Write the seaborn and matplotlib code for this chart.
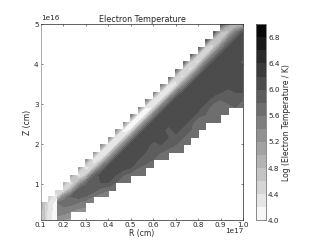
import numpy as np
import seaborn as sns
import matplotlib
matplotlib.use('Agg')
import matplotlib.pyplot as plt

# R positions of the grid columns (in units of 1e17 cm)
r_cols = [0.1, 0.133, 0.167, 0.174, 0.176, 0.2, 0.233, 0.267, 0.3, 0.333, 0.367, 0.4, 0.433, 0.467, 0.5,
          0.533, 0.567, 0.6, 0.633, 0.667, 0.7, 0.733, 0.767, 0.8, 0.833, 0.867, 0.9, 0.933, 0.967, 1.0]
# Z positions of the grid rows (in units of 1e16 cm)
z_rows = [0.1, 0.32, 0.55, 0.70, 0.85, 1.04, 1.23, 1.42, 1.61, 1.80, 1.99, 2.17, 2.36, 2.55, 2.74,
          2.93, 3.12, 3.30, 3.49, 3.68, 3.87, 4.06, 4.25, 4.43, 4.62, 4.81, 5.0]
# first filled row of every column
first_row = [0, 0, 0, 0, 0, 0, 0, 1, 1, 2, 3, 3, 4, 5, 5, 6, 6, 7, 8, 8, 9, 9, 10, 11, 12, 13, 13, 14, 15, 15]
# log temperature of every column, bottom to top
log_temp = [
    [4.9, 4.9, 4.9],
    [4.3, 4.3, 4.4, 4.5],
    [4.1, 4.1, 4.1, 4.3, 4.5],
    [4.1, 4.1, 4.1, 4.1, 4.4],
    [5.3, 5.5, 5.6, 4.5, 4.4],
    [5.2, 5.5, 5.7, 5.3, 4.2, 5.0],
    [5.1, 5.4, 5.7, 5.8, 5.0, 4.2, 5.1],
    [5.3, 5.6, 5.9, 5.9, 5.0, 4.2, 5.2],
    [5.3, 5.5, 5.8, 6.0, 5.7, 4.6, 4.2, 5.3],
    [5.4, 5.6, 5.9, 6.0, 5.7, 4.5, 4.2, 5.3],
    [5.5, 5.7, 6.0, 6.1, 5.5, 4.4, 4.2, 5.4],
    [5.4, 5.6, 6.0, 6.1, 6.1, 5.4, 4.3, 4.2, 5.4],
    [5.6, 5.8, 6.0, 6.1, 6.1, 5.4, 4.3, 4.2, 5.4],
    [5.6, 5.8, 6.1, 6.1, 6.1, 5.4, 4.3, 4.1, 5.4],
    [5.6, 5.7, 6.0, 6.1, 6.1, 6.1, 5.4, 4.2, 4.2, 5.5],
    [5.6, 5.8, 6.0, 6.1, 6.1, 6.1, 5.4, 4.2, 4.2, 5.5],
    [5.6, 5.7, 5.9, 6.0, 6.1, 6.1, 6.1, 5.4, 4.2, 4.2, 5.5],
    [5.6, 5.8, 5.9, 5.9, 6.1, 6.1, 6.1, 5.4, 4.2, 4.3, 5.6],
    [5.6, 5.8, 6.0, 6.1, 6.1, 6.1, 6.1, 5.4, 4.2, 4.3, 5.6],
    [5.6, 5.7, 5.9, 6.0, 5.9, 6.1, 6.1, 6.1, 5.4, 4.2, 4.4, 5.7],
    [5.6, 5.8, 5.9, 6.1, 6.1, 6.1, 6.1, 6.1, 5.4, 4.2, 4.5, 5.7],
    [5.6, 5.7, 5.8, 5.9, 6.1, 6.1, 6.1, 6.1, 6.0, 5.3, 4.3, 4.5, 5.8],
    [5.6, 5.7, 5.8, 5.9, 6.1, 6.1, 6.1, 6.1, 6.0, 5.3, 4.3, 4.5, 5.9],
    [5.6, 5.7, 5.6, 5.9, 6.1, 6.1, 6.1, 6.1, 6.0, 5.3, 4.3, 4.6, 5.9],
    [5.8, 5.7, 5.8, 5.9, 6.1, 6.1, 6.1, 6.1, 6.0, 5.4, 4.4, 4.6, 6.0],
    [5.8, 5.6, 5.7, 5.9, 6.1, 6.1, 6.1, 6.1, 6.0, 5.4, 4.5, 4.7, 6.0],
    [5.7, 5.7, 5.7, 5.8, 6.0, 6.1, 6.1, 6.1, 6.1, 6.0, 5.4, 4.6, 4.8, 5.9],
    [5.8, 5.7, 5.9, 5.9, 6.1, 6.1, 6.1, 6.1, 6.1, 6.0, 5.5, 4.7, 5.1],
    [5.8, 5.9, 6.0, 6.1, 6.1, 6.1, 6.1, 6.1, 6.1, 6.0, 5.5, 4.7],
    [5.7, 5.8, 6.0, 6.1, 6.1, 6.1, 5.9, 6.1, 6.1, 6.1, 6.0, 4.8],
]
x_ticks = [0.1, 0.2, 0.3, 0.4, 0.5, 0.6, 0.7, 0.8, 0.9, 1.0]
y_ticks = [1, 2, 3, 4, 5]
cbar_ticks = [4.0, 4.4, 4.8, 5.2, 5.6, 6.0, 6.4, 6.8]

sns.set_style('ticks')
plt.rcParams['font.family'] = ['DejaVu Sans']
plt.rcParams['font.size'] = 5.2
plt.rcParams['xtick.direction'] = 'in'
plt.rcParams['ytick.direction'] = 'in'

# fill the grid, cells outside the wedge stay empty
grid = np.full((len(z_rows), len(r_cols)), np.nan)
for c, vals in enumerate(log_temp):
    grid[first_row[c]:first_row[c] + len(vals), c] = vals
grid = np.ma.masked_invalid(grid)

fig = plt.figure(figsize=(3.27, 2.45), dpi=100)
W, H = 327.0, 245.0
ax = fig.add_axes([40.7 / W, 1 - 220.3 / H, 202.5 / W, 196 / H])
levels = np.arange(4.0, 7.01, 0.2)
cmap = sns.color_palette('gray_r', as_cmap=True)
cs = ax.contourf(np.array(r_cols) * 1e17, np.array(z_rows) * 1e16, grid, levels=levels, cmap=cmap,
                 corner_mask=False)

ax.set_xlim(0.1e17, 1.0e17)
ax.set_ylim(0.1e16, 5e16)
ax.set_xticks(np.array(x_ticks) * 1e17)
ax.set_yticks(np.array(y_ticks) * 1e16)
ax.tick_params(top=True, right=True, labelsize=5.2, length=1.6, width=0.4, pad=1.5, color='#222222')
for s in ax.spines.values():
    s.set_linewidth(0.5)
    s.set_color('#222222')
ax.spines['left'].set_color('#888888')
ax.xaxis.OFFSETTEXTPAD = 0
ax.xaxis.get_offset_text().set_fontsize(5.2)
ax.yaxis.get_offset_text().set_fontsize(5.2)
ax.set_xlabel('R (cm)', fontsize=5.5, labelpad=0.5)
ax.set_ylabel('Z (cm)', fontsize=5.5, labelpad=1.5)
ax.set_title('Electron Temperature', fontsize=5.8, pad=1.5)

cax = fig.add_axes([256 / W, 1 - 220.3 / H, 10 / W, 196 / H])
cb = fig.colorbar(cs, cax=cax, ticks=cbar_ticks)
cb.ax.set_yticklabels(['%.1f' % t for t in cbar_ticks])
cb.ax.tick_params(labelsize=5.2, length=1.4, width=0.4, pad=1.5, direction='in', color='#222222')
cb.outline.set_linewidth(0.6)
cb.outline.set_edgecolor('#777777')
cb.set_label('Log (Electron Temperature / K)', fontsize=5.5, labelpad=2)

plt.savefig('out.png', dpi=100)
